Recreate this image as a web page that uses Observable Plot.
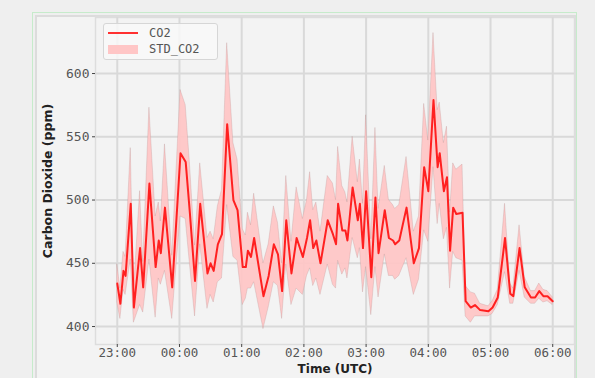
<!DOCTYPE html>
<html>
<head>
<meta charset="utf-8">
<script src="https://cdn.jsdelivr.net/npm/d3@7"></script>
<script src="https://cdn.jsdelivr.net/npm/@observablehq/plot@0.6"></script>
<style>
  html, body { margin: 0; padding: 0; background: #efefef; }
  #wrap { position: relative; width: 595px; height: 378px; overflow: hidden; background: #efefef; }
  #outer { position: absolute; left: 32px; top: 12px; width: 545px; height: 400px; border: 1.5px solid #c6ebcb; box-sizing: border-box; }
  #inner { position: absolute; left: 35px; top: 15px; width: 541px; height: 400px; border: 2px solid #dcdcdc; box-sizing: border-box; background: #f3f3f3; }
  #chart { position: absolute; left: 0; top: 0; }
  #legend { position: absolute; left: 103px; top: 23px; width: 115px; height: 37px; box-sizing: border-box;
            border: 1.5px solid #d6d6d6; border-radius: 3px; background: rgba(248,248,248,0.85);
            font: 12px "DejaVu Sans Mono", monospace; color: #555; }
  .row { position: absolute; left: 4px; height: 12px; display: flex; align-items: center; }
  .swatch-line { width: 30px; height: 2px; background: #ff3030; margin-right: 11px; }
  .swatch-band { width: 30px; height: 9px; background: #ffc6c6; margin-right: 11px; }
</style>
</head>
<body>
<div id="wrap">
  <div id="outer"></div>
  <div id="inner"></div>
  <div id="chart"></div>
  <div id="legend">
    <div class="row" style="top:3px"><span class="swatch-line"></span>CO2</div>
    <div class="row" style="top:19px"><span class="swatch-band"></span>STD_CO2</div>
  </div>
</div>
<script>
// Minutes after 23:00 UTC for each sample
const minutes = [0, 3, 6, 8, 13, 16, 22, 25, 31, 37, 40, 42, 46, 53, 61, 66, 70, 75, 80, 87,
  90, 93, 97, 101, 106, 112, 116, 121, 124, 126, 129, 132, 141, 146, 151, 155, 159, 163, 168, 173,
  179, 183, 186, 189, 192, 196, 203, 208, 211, 213, 217, 220, 222, 227, 232, 234, 237, 240, 245, 249,
  252, 258, 262, 266, 268, 272, 279, 286, 291, 296, 300, 305, 309, 311, 315, 318, 321, 324, 327, 333,
  336, 341, 345, 350, 358, 362, 367, 374, 379, 382, 388, 393, 399, 403, 407, 411, 415, 420];

// Mean CO2 (ppm)
const co2 = [434, 418, 444, 440, 497, 415, 462, 431, 513, 447, 468, 458, 494, 431, 537, 530, 490, 436, 497, 442,
  450, 444, 465, 473, 560, 500, 492, 447, 447, 460, 455, 470, 424, 440, 465, 457, 428, 484, 442, 470,
  455, 470, 484, 462, 468, 450, 484, 473, 465, 497, 476, 476, 468, 510, 484, 497, 462, 507, 439, 502,
  458, 492, 470, 468, 465, 468, 494, 450, 462, 526, 507, 579, 526, 537, 507, 518, 460, 494, 489, 490,
  420, 415, 417, 413, 412, 415, 423, 470, 426, 424, 462, 431, 423, 423, 428, 424, 424, 420];

// Standard deviation of CO2 (ppm)
const stdCo2 = [15, 12, 15, 15, 44, 12, 45, 20, 60, 40, 30, 25, 50, 25, 50, 45, 40, 28, 32, 28,
  25, 25, 30, 35, 64, 45, 40, 30, 25, 30, 25, 35, 26, 25, 30, 25, 22, 35, 25, 40,
  30, 30, 38, 30, 30, 25, 35, 40, 35, 45, 35, 30, 30, 40, 30, 35, 35, 60, 30, 55,
  35, 35, 30, 28, 28, 28, 40, 25, 25, 50, 40, 53, 45, 40, 38, 40, 30, 35, 35, 38,
  12, 12, 9, 5, 4, 5, 6, 27, 8, 6, 18, 8, 5, 5, 6, 5, 4, 3];

// Hour tick labels
const hourLabels = ["23:00", "00:00", "01:00", "02:00", "03:00", "04:00", "05:00", "06:00"];
const yTicks = [400, 450, 500, 550, 600];

const base = Date.UTC(2021, 0, 1, 23, 0);
const MIN = 60000;
const rows = minutes.map((m, i) => ({ time: new Date(base + m * MIN), co2: co2[i], std: stdCo2[i] }));
const hourTicks = hourLabels.map((_, i) => new Date(base + i * 60 * MIN));
const hourFormat = d => hourLabels[Math.round((d - base) / (60 * MIN))];

const gridStyle = { stroke: "#d9d9d9", strokeWidth: 2, strokeOpacity: 1 };
const tickFont = "'DejaVu Sans Mono', monospace";

const chart = Plot.plot({
  width: 595,
  height: 378,
  marginLeft: 95,
  marginRight: 21,
  marginTop: 17,
  marginBottom: 34,
  style: { background: "transparent", fontFamily: "'DejaVu Sans', sans-serif" },
  x: { type: "utc", domain: [new Date(base - 21 * MIN), new Date(base + 441 * MIN)] },
  y: { domain: [385.8, 644.3] },
  marks: [
    Plot.frame({ stroke: "#dddddd", strokeWidth: 1.5 }),
    Plot.gridX(hourTicks, gridStyle),
    Plot.gridY(yTicks, gridStyle),
    Plot.areaY(rows, { x: "time", y1: d => d.co2 - d.std, y2: d => d.co2 + d.std, fill: "#ffc6c6", fillOpacity: 0.92,
      stroke: "#b08080", strokeOpacity: 0.3, strokeWidth: 0.8, curve: "linear" }),
    Plot.lineY(rows, { x: "time", y: "co2", stroke: "#ff2020", strokeWidth: 2, curve: "linear" }),
    Plot.axisX(hourTicks, { tickFormat: hourFormat, tickSize: 3, tickPadding: 1, fontSize: 12.5, fontFamily: tickFont, fill: "#555", stroke: "#444", label: null }),
    Plot.axisY(yTicks, { tickSize: 3, tickPadding: 3, fontSize: 13, fontFamily: tickFont, fill: "#555", stroke: "#444", label: null }),
    Plot.text(["Time (UTC)"], { frameAnchor: "bottom", dy: 28.5, fontSize: 12, fontWeight: "bold", fill: "#222" }),
    Plot.text(["Carbon Dioxide (ppm)"], { frameAnchor: "left", textAnchor: "middle", dx: -48, rotate: -90, fontSize: 12.5, fontWeight: "bold", fill: "#222" })
  ]
});
document.getElementById("chart").appendChild(chart);
</script>
</body>
</html>
